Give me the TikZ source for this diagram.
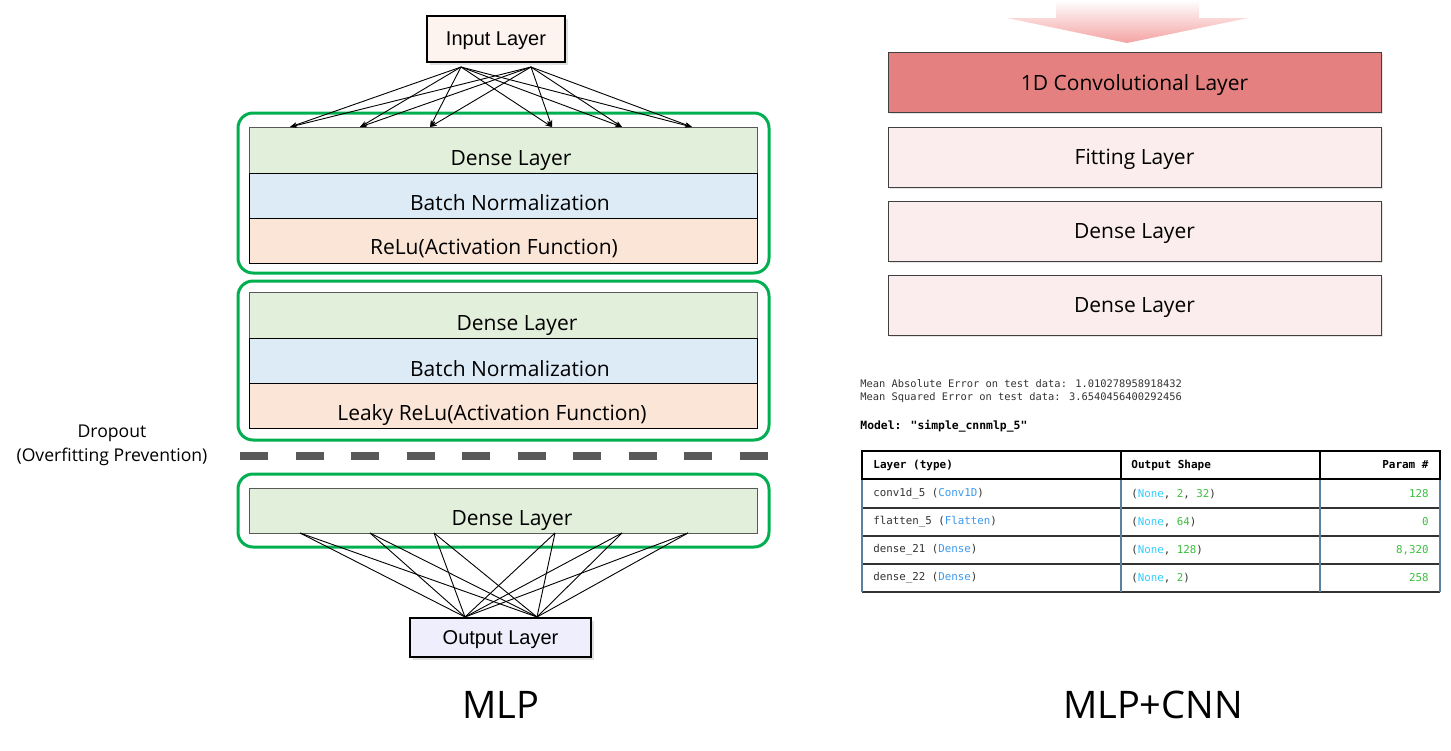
\documentclass[tikz,border=0pt]{standalone}
\usepackage{fontspec}
\setmainfont{Open Sans}
\newfontfamily\arialfont{Liberation Sans}
\newfontfamily\codefont{DejaVu Sans Mono}
\usetikzlibrary{shadows,arrows.meta}

\definecolor{denseclr}{HTML}{E2EFDA}
\definecolor{batchclr}{HTML}{DDEBF7}
\definecolor{reluclr}{HTML}{FBE5D6}
\definecolor{grpgreen}{HTML}{00B050}
\definecolor{convclr}{HTML}{E48180}
\definecolor{fitclr}{HTML}{FBEDED}
\definecolor{inclr}{HTML}{FDF4EF}
\definecolor{outclr}{HTML}{EEEEFC}
\definecolor{dashclr}{HTML}{595959}
\definecolor{arrowpink}{HTML}{F4A3A3}
\definecolor{nonecyan}{HTML}{33CCFF}
\definecolor{typeblue}{HTML}{3A9AF0}
\definecolor{numgreen}{HTML}{3CBF3C}
\definecolor{codegray}{HTML}{333333}
\definecolor{rulegray}{HTML}{5A7FA0}

\tikzset{
  group/.style={draw=grpgreen, line width=1.5pt, rounded corners=7.5pt},
  iobox/.style={draw=black, line width=0.6pt, inner sep=0pt, text depth=0pt,
    drop shadow={shadow xshift=1.5pt, shadow yshift=-1.5pt, opacity=0.25},
    font=\arialfont\fontsize{10}{12}\selectfont},
  lbl/.style={inner sep=0pt, text depth=0pt, font=\fontsize{10.5}{12}\selectfont},
  rbox/.style={draw=black!75, line width=0.5pt, inner sep=0pt, text depth=0pt,
    minimum width=246.5pt, minimum height=30pt,
    drop shadow={shadow xshift=0.8pt, shadow yshift=-0.8pt, opacity=0.2},
    font=\fontsize{10.5}{12}\selectfont},
  link/.style={line width=0.45pt},
  code/.style={inner sep=0pt, text=codegray, font=\codefont\fontsize{5.4}{6}\selectfont},
  codehead/.style={inner sep=0pt, text=black, font=\codefont\bfseries\fontsize{5.5}{6}\selectfont}
}

\begin{document}
\begin{tikzpicture}[x=0.5pt,y=-0.5pt]
  \fill[white] (0,0) rectangle (1451,750);
  \useasboundingbox (0,0) rectangle (1451,750);

  % MLP side
  \draw[fill=denseclr, draw=dashclr, line width=0.5pt] (249,127) rectangle (757,173);
  \draw[fill=batchclr, line width=0.5pt] (249,173) rectangle (757,218);
  \draw[fill=reluclr, line width=0.5pt] (249,218) rectangle (757,263);
  \node[lbl] (dense1) at (511,158) {Dense Layer};
  \node[lbl] (batch1) at (510,203) {Batch Normalization};
  \node[lbl] (relu1) at (494,247) {ReLu(Activation Function)};
  \draw[group] (238,113) rectangle (769,273);

  \draw[fill=denseclr, draw=dashclr, line width=0.5pt] (249,292) rectangle (757,338);
  \draw[fill=batchclr, line width=0.5pt] (249,338) rectangle (757,383);
  \draw[fill=reluclr, line width=0.5pt] (249,383) rectangle (757,428);
  \node[lbl] (dense2) at (517,323) {Dense Layer};
  \node[lbl] (batch2) at (510,369) {Batch Normalization};
  \node[lbl] (leaky2) at (492,413) {Leaky ReLu(Activation Function)};
  \draw[group] (238,281) rectangle (769,440);

  \draw[dashclr, line width=4pt, dash pattern=on 14pt off 13.75pt] (240,456) -- (770,456);
  \node[inner sep=0pt, font=\fontsize{8.8}{10}\selectfont] (drop) at (112,433) {Dropout};
  \node[inner sep=0pt, font=\fontsize{8.8}{10}\selectfont] (prev) at (112,457) {(Overfitting Prevention)};

  \draw[fill=denseclr, draw=dashclr, line width=0.5pt] (249,488) rectangle (757,533);
  \node[lbl] (dense3) at (512,518) {Dense Layer};
  \draw[group] (238,474) rectangle (769,547);

  \node[iobox, fill=inclr, minimum width=69pt, minimum height=23pt] (input) at (496,39) {Input Layer};
  \node[iobox, fill=outclr, minimum width=90.5pt, minimum height=19.5pt] (output) at (500.5,637.5) {Output Layer};

  \coordinate (inA) at (461,67);
  \coordinate (inB) at (531,67);
  \foreach \x [count=\i] in {290,360,430,552,622,692}
    \coordinate (h\i) at (\x,127);
  \foreach \s in {inA,inB}
    \foreach \i in {1,...,6}
      \draw[link,-{Stealth[length=3.5pt,width=2.5pt]}] (\s) -- (h\i);

  \coordinate (outA) at (465,617);
  \coordinate (outB) at (537,617);
  \foreach \x [count=\i] in {300,370,434,555,622,688}
    \coordinate (d\i) at (\x,533);
  \foreach \i in {1,...,6} {
    \draw[link] (d\i) -- (outA);
    \draw[link] (d\i) -- (outB);
  }

  \node[inner sep=0pt, font=\fontsize{19}{22}\selectfont] (mlp) at (501,705) {MLP};

  % MLP+CNN side
  \shade[top color=white, bottom color=arrowpink]
    (1056,0) -- (1199,0) -- (1199,18) -- (1248,18) -- (1127,43) -- (1007,18) -- (1056,18) -- cycle;
  \node[rbox, fill=convclr] (conv) at (1134.5,82.5) {1D Convolutional Layer};
  \node[rbox, fill=fitclr] (fit) at (1134.5,157) {Fitting Layer};
  \node[rbox, fill=fitclr] (rdense1) at (1134.5,231) {Dense Layer};
  \node[rbox, fill=fitclr] (rdense2) at (1134.5,305) {Dense Layer};

  \node[code, anchor=west, font=\codefont\fontsize{5.2}{6}\selectfont] (mae) at (860,384)
    {Mean Absolute Error on test data: 1.010278958918432};
  \node[code, anchor=west, font=\codefont\fontsize{5.2}{6}\selectfont] (mse) at (860,398)
    {Mean Squared Error on test data: 3.6540456400292456};
  \node[codehead, anchor=west, font=\codefont\bfseries\fontsize{5.7}{6}\selectfont] (model) at (860,426)
    {Model: "simple\_cnnmlp\_5"};

  % summary table
  \foreach \y in {508,536,564,592}
    \draw[codegray, line width=0.6pt] (862,\y) -- (1440,\y);
  \draw[rulegray, line width=0.6pt] (862,479) -- (862,592);
  \draw[rulegray, line width=0.6pt] (1121,479) -- (1121,592);
  \draw[rulegray, line width=0.6pt] (1320,479) -- (1320,592);
  \draw[rulegray, line width=0.6pt] (1440,479) -- (1440,592);
  \draw[black, line width=1pt] (862,451) rectangle (1440,479);
  \draw[black, line width=1pt] (1121,451) -- (1121,479);
  \draw[black, line width=1pt] (1320,451) -- (1320,479);

  \node[codehead, anchor=west] (hlayer) at (873,465) {Layer (type)};
  \node[codehead, anchor=west] (hshape) at (1131,465) {Output Shape};
  \node[codehead, anchor=east] (hparam) at (1429,465) {Param \#};

  \node[code, anchor=west] (l1) at (873,494) {conv1d\_5 (\textcolor{typeblue}{Conv1D})};
  \node[code, anchor=west] (s1) at (1131,494) {(\textcolor{nonecyan}{None}, \textcolor{numgreen}{2}, \textcolor{numgreen}{32})};
  \node[code, anchor=east, text=numgreen] (p1) at (1429,494) {128};

  \node[code, anchor=west] (l2) at (873,522) {flatten\_5 (\textcolor{typeblue}{Flatten})};
  \node[code, anchor=west] (s2) at (1131,522) {(\textcolor{nonecyan}{None}, \textcolor{numgreen}{64})};
  \node[code, anchor=east, text=numgreen] (p2) at (1429,522) {0};

  \node[code, anchor=west] (l3) at (873,550) {dense\_21 (\textcolor{typeblue}{Dense})};
  \node[code, anchor=west] (s3) at (1131,550) {(\textcolor{nonecyan}{None}, \textcolor{numgreen}{128})};
  \node[code, anchor=east, text=numgreen] (p3) at (1429,550) {8,320};

  \node[code, anchor=west] (l4) at (873,578) {dense\_22 (\textcolor{typeblue}{Dense})};
  \node[code, anchor=west] (s4) at (1131,578) {(\textcolor{nonecyan}{None}, \textcolor{numgreen}{2})};
  \node[code, anchor=east, text=numgreen] (p4) at (1429,578) {258};

  \node[inner sep=0pt, font=\fontsize{19}{22}\selectfont] (mlpcnn) at (1153,705) {MLP+CNN};
\end{tikzpicture}
\end{document}
